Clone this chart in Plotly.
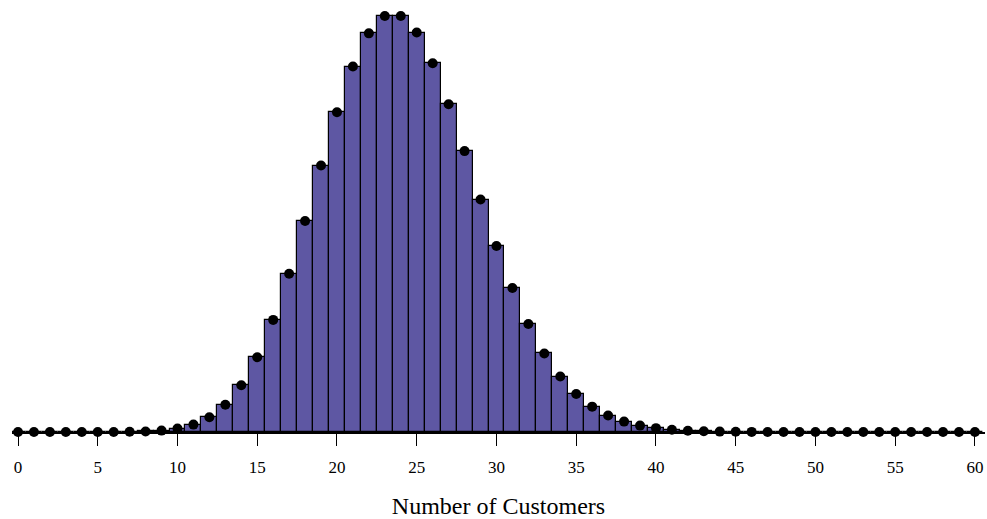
import plotly.graph_objects as go

# Number of customers (0..60) and the probability of each count
customers = list(range(61))
probability = [
    0.0, 0.0, 0.0, 0.0, 0.0000001, 0.0000025, 0.0000100, 0.0000343, 0.000103, 0.000275,
    0.00066, 0.00144, 0.00288, 0.00532, 0.00911, 0.01458, 0.02188, 0.03089, 0.04118, 0.05202,
    0.06242, 0.07134, 0.07782, 0.08121, 0.08121, 0.07797, 0.07197, 0.06397, 0.05483, 0.04538,
    0.03630, 0.02811, 0.02108, 0.01533, 0.01082, 0.00742, 0.00495, 0.00321, 0.00203, 0.00125,
    0.00075, 0.000439, 0.000251, 0.000140, 0.0000764, 0.0000407, 0.0000212, 0.0000108, 0.0000054, 0.0000026,
    0.0000013, 0.0000006, 0.0000003, 0.0, 0.0, 0.0, 0.0, 0.0, 0.0, 0.0, 0.0,
]
tick_values = list(range(0, 61, 5))

fig = go.Figure()

fig.add_trace(go.Bar(
    x=customers,
    y=probability,
    width=1.0,
    marker=dict(color="#5E57A3", line=dict(color="black", width=1.2)),
    hoverinfo="skip",
))

fig.add_trace(go.Scatter(
    x=customers,
    y=probability,
    mode="markers",
    marker=dict(color="black", size=10),
    cliponaxis=False,
))

fig.update_layout(
    width=987,
    height=519,
    margin=dict(l=12, r=2, t=0, b=87),
    plot_bgcolor="white",
    paper_bgcolor="white",
    showlegend=False,
    bargap=0,
    font=dict(family="Liberation Serif", color="black"),
    xaxis=dict(
        range=[-0.376, 60.63],
        tickvals=tick_values,
        ticktext=[str(v) for v in tick_values],
        ticks="outside",
        ticklen=12,
        tickwidth=1.2,
        tickcolor="black",
        tickfont=dict(size=17, family="Liberation Serif"),
        ticklabelstandoff=7,
        showline=True,
        linecolor="black",
        linewidth=1.8,
        showgrid=False,
        zeroline=False,
        layer="below traces",
        title=dict(text="Number of Customers", font=dict(size=24, family="Liberation Serif"), standoff=22),
    ),
    yaxis=dict(
        range=[0, 0.08433],
        visible=False,
        showgrid=False,
        zeroline=False,
    ),
)

fig.write_html("out.html")
